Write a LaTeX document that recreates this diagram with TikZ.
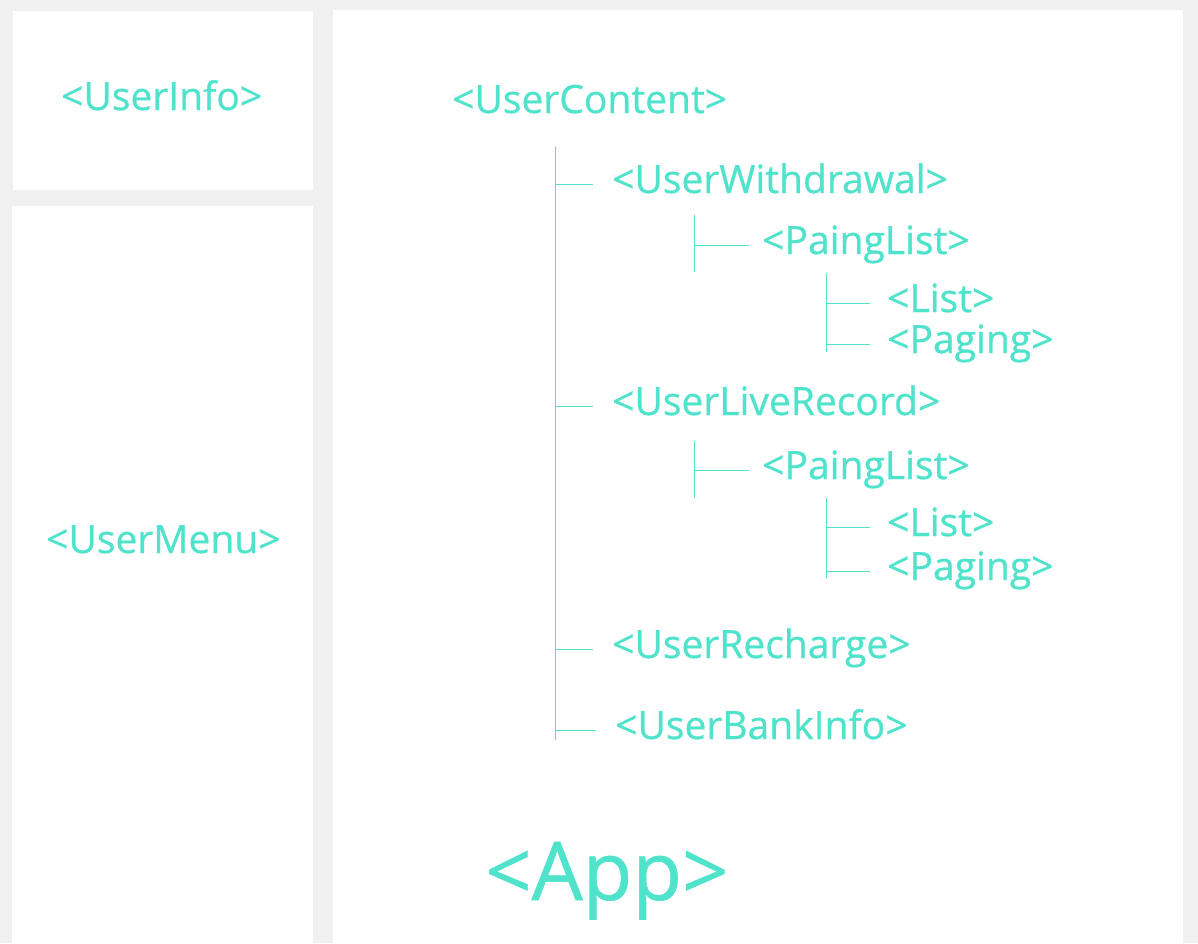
\documentclass[tikz,border=0pt]{standalone}
\usepackage{fontspec}
\setmainfont{Open Sans}
\newfontfamily\tagfont[FakeBold=0.7]{Open Sans}

\definecolor{pagebg}{HTML}{F0F0F0}
\definecolor{tagcolor}{HTML}{50E3CC}

\tikzset{
    panel/.style={fill=white, draw=none},
    tag/.style={text=tagcolor, font=\tagfont\fontsize{39}{41}\selectfont,
        anchor=base west, inner sep=0pt, text height=18pt, text depth=0pt},
    branch/.style={draw=tagcolor, line width=1pt}
}

\begin{document}
\begin{tikzpicture}[x=1pt, y=-1pt]
    % page and panels
    \fill[pagebg] (0,0) rectangle (1198,943);
    \fill[panel] (13,11) rectangle (313,190);
    \fill[panel] (12,206) rectangle (313,943);
    \fill[panel] (333,10) rectangle (1183,943);

    % side components
    \node[tag] (info) at (61,110) {<UserInfo>};
    \node[tag] (menu) at (46,553) {<UserMenu>};

    % content tree
    \node[tag] (content) at (452,113) {<UserContent>};
    \node[tag] (withdrawal) at (612,193) {<UserWithdrawal>};
    \node[tag] (wpaginglist) at (762,254) {<PaingList>};
    \node[tag] (wlist) at (887,312) {<List>};
    \node[tag] (wpaging) at (887,353) {<Paging>};
    \node[tag] (liverecord) at (612,415) {<UserLiveRecord>};
    \node[tag] (lpaginglist) at (762,479) {<PaingList>};
    \node[tag] (llist) at (887,536) {<List>};
    \node[tag] (lpaging) at (887,580) {<Paging>};
    \node[tag] (recharge) at (612,658) {<UserRecharge>};
    \node[tag] (bankinfo) at (615,739) {<UserBankInfo>};

    \node[tag, font=\tagfont\fontsize{81}{83}\selectfont] (app) at (485,900) {<App>};

    % trunk under UserContent
    \coordinate (trunk top) at (555,147);
    \coordinate (trunk end) at (555,740);
    \draw[branch] (trunk top) -- (trunk end);
    \foreach \child in {withdrawal,liverecord,recharge,bankinfo}
        \draw[branch] (trunk top |- \child.west) -- ([xshift=-19pt]\child.west);

    % UserWithdrawal branch
    \coordinate (wbar top) at (694,215);
    \coordinate (wbar end) at (694,272);
    \draw[branch] (wbar top) -- (wbar end);
    \draw[branch] (wbar top |- wpaginglist.west) -- ([xshift=-13pt]wpaginglist.west);
    \coordinate (wsub top) at (826,273);
    \coordinate (wsub end) at (826,352);
    \draw[branch] (wsub top) -- (wsub end);
    \draw[branch] (wsub top |- wlist.west) -- ([xshift=-17pt]wlist.west);
    \draw[branch] (wsub top |- wpaging.west) -- ([xshift=-17pt]wpaging.west);

    % UserLiveRecord branch
    \coordinate (lbar top) at (694,441);
    \coordinate (lbar end) at (694,498);
    \draw[branch] (lbar top) -- (lbar end);
    \draw[branch] (lbar top |- lpaginglist.west) -- ([xshift=-13pt]lpaginglist.west);
    \coordinate (lsub top) at (826,498);
    \coordinate (lsub end) at (826,578);
    \draw[branch] (lsub top) -- (lsub end);
    \draw[branch] (lsub top |- llist.west) -- ([xshift=-17pt]llist.west);
    \draw[branch] (lsub top |- lpaging.west) -- ([xshift=-17pt]lpaging.west);
\end{tikzpicture}
\end{document}
